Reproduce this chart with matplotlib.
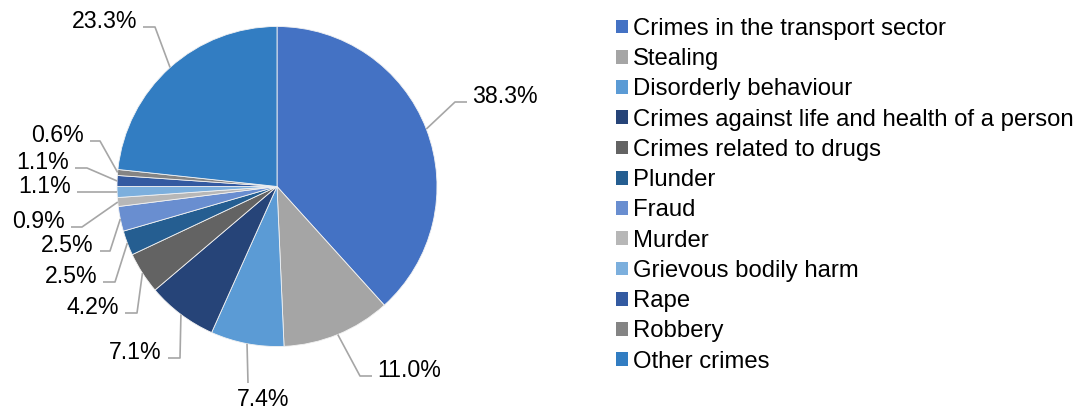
import matplotlib.pyplot as plt
from matplotlib.patches import Patch
import numpy as np

# Data
categories = ["Crimes in the transport sector", "Stealing", "Disorderly behaviour",
              "Crimes against life and health of a person", "Crimes related to drugs",
              "Plunder", "Fraud", "Murder", "Grievous bodily harm", "Rape", "Robbery",
              "Other crimes"]
shares = [38.3, 11.0, 7.4, 7.1, 4.2, 2.5, 2.5, 0.9, 1.1, 1.1, 0.6, 23.3]
colors = ["#4472C4", "#A5A5A5", "#5B9BD5", "#264478", "#636363", "#255E91",
          "#698ED0", "#B7B7B7", "#7CAFDD", "#335AA1", "#848484", "#327DC2"]

# Label layout in pixels (from top-left): leader elbow, leader end, text side
elbows = [(455, 102), (360, 376), (248, 383), (180, 358), (137, 313), (115, 282),
          (110, 251), (82, 227), (117, 192), (87, 168), (100, 141), (155, 27)]
ends = [(467, 102), (372, 376), (248, 383), (168, 358), (125, 313), (103, 282),
        (100, 251), (71, 227), (77, 192), (75, 168), (90, 141), (143, 27)]
sides = ["left", "left", "below", "right", "right", "right", "right", "right",
         "right", "right", "right", "right"]

W, H = 1081, 409
FS = 16.7       # data labels
LFS = 17.2      # legend
plt.rcParams['font.family'] = ['Liberation Sans', 'DejaVu Sans']

fig = plt.figure(figsize=(W / 100, H / 100), dpi=100)
ax = fig.add_axes([0, 0, 1, 1])

cx, cy, r = 277, 186.5, 160
wedges, _ = ax.pie(shares, colors=colors, startangle=90, counterclock=False,
                   center=(cx, H - cy), radius=r,
                   wedgeprops=dict(linewidth=0.6, edgecolor="#f2f2f2"))

for w, val, (ex, ey), (lx, ly), side in zip(wedges, shares, elbows, ends, sides):
    ang = np.deg2rad((w.theta1 + w.theta2) / 2)
    px = cx + r * np.cos(ang)
    py = H - cy + r * np.sin(ang)
    ax.plot([px, ex, lx], [py, H - ey, H - ly], color="#A6A6A6", lw=1.2,
            solid_capstyle="butt", zorder=3)
    txt = "{:.1f}%".format(val)
    if side == "left":
        ax.text(lx + 5, H - ly - 1, txt, ha="left", va="baseline", fontsize=FS)
    elif side == "right":
        ax.text(lx - 6, H - ly - 1, txt, ha="right", va="baseline", fontsize=FS)
    else:
        ax.text(lx + 15, H - ly - 23, txt, ha="center", va="baseline", fontsize=FS)

handles = [Patch(facecolor=c, edgecolor="none") for c in colors]
leg = ax.legend(handles, categories, loc="upper left", bbox_to_anchor=(616 / W, 1 - 18 / H),
                frameon=False, fontsize=LFS, handlelength=0.5, handleheight=0.5,
                handletextpad=0.2, labelspacing=0.345, borderaxespad=0, borderpad=0)

ax.set_xlim(0, W)
ax.set_ylim(0, H)
ax.set_aspect("equal")
ax.axis("off")

fig.savefig("out.png", dpi=100)
